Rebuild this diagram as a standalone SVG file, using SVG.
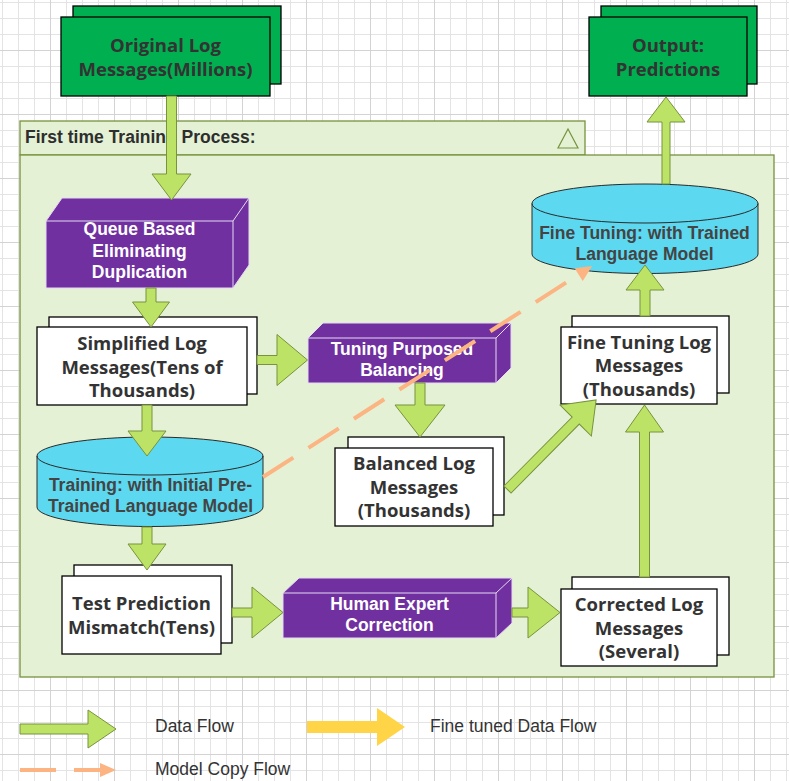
<svg xmlns="http://www.w3.org/2000/svg" width="789" height="781" viewBox="0 0 789 781">
<defs>
<pattern id="grid" x="0" y="0" width="64" height="64" patternUnits="userSpaceOnUse">
<path d="M2.5 0V64M18.5 0V64M34.5 0V64M0 2.5H64M0 18.5H64M0 34.5H64" stroke="#e4e4e4" stroke-width="1" fill="none"/>
<path d="M50.5 0V64M0 50.5H64" stroke="#d3d3d3" stroke-width="1" fill="none"/>
</pattern>
<style>
.arrow{fill:#bde366;stroke:#77933c;stroke-width:1}
.yarrow{fill:#ffd447}
.gbox{fill:#00b050;stroke:#000;stroke-width:1.3}
.wbox{fill:#fff;stroke:#000;stroke-width:1.3}
.cube{fill:#7030a0;stroke:#e6d9f2;stroke-width:1}
.cubeline{fill:none;stroke:#e6d9f2;stroke-width:1}
.cyl{fill:#5cd9f0;stroke:#2a2a2a;stroke-width:1}
.cylline{fill:none;stroke:#2a2a2a;stroke-width:1}
.bt{font-family:'Open Sans','Noto Sans',sans-serif;font-weight:bold;font-size:18.5px;fill:#333;text-anchor:middle}
.ct{font-family:'Liberation Sans',Arial,sans-serif;font-weight:bold;font-size:17.5px;fill:#fff;text-anchor:middle}
.yt{font-family:'Liberation Sans',Arial,sans-serif;font-weight:bold;font-size:17.5px;fill:#444;text-anchor:middle}
.ht{font-family:'Liberation Sans',Arial,sans-serif;font-weight:bold;font-size:17.5px;fill:#2e2e2e}
.lt{font-family:'Liberation Sans',Arial,sans-serif;font-size:17.5px;fill:#333}
.dash{fill:none;stroke:#fbb482;stroke-width:4;stroke-dasharray:36 18}
.dhead{fill:#fbb482}
</style>
</defs>
<rect x="0" y="0" width="789" height="781" fill="#fff"/>
<rect x="0" y="0" width="789" height="781" fill="url(#grid)"/>

<g id="container">
<rect x="20" y="121" width="565" height="34" fill="#e4f1d5" stroke="#77933c" stroke-width="1.3"/>
<rect x="20" y="155" width="754" height="522" fill="#e4f1d5" stroke="#77933c" stroke-width="1.3"/>
<text class="ht" x="25" y="143">First time Training Process:</text>
<polygon points="568,129 558,148 578,148" fill="none" stroke="#77933c" stroke-width="1.2"/>
</g>

<g id="original">
<rect class="gbox" x="73" y="6" width="208" height="78"/>
<rect class="gbox" x="61" y="17" width="209" height="79"/>
<text class="bt" x="165.5" y="52">Original Log</text>
<text class="bt" x="165.5" y="75.5">Messages(Millions)</text>
</g>

<g id="output">
<rect class="gbox" x="601" y="6" width="156" height="78"/>
<rect class="gbox" x="589" y="17" width="158" height="79"/>
<text class="bt" x="668" y="52">Output:</text>
<text class="bt" x="668" y="75.5">Predictions</text>
</g>

<g id="queue">
<path class="cube" d="M46 221L62 198L249 198L249 265L233 288L46 288Z"/>
<path class="cubeline" d="M46 221H233V288M233 221L249 198"/>
<text class="ct" x="139.5" y="235">Queue Based</text>
<text class="ct" x="139.5" y="257">Eliminating</text>
<text class="ct" x="139.5" y="278">Duplication</text>
</g>

<g id="simplified">
<rect class="wbox" x="49" y="317" width="208" height="77"/>
<rect class="wbox" x="37" y="327" width="210" height="78"/>
<text class="bt" x="142" y="350">Simplified Log</text>
<text class="bt" x="142" y="373.5">Messages(Tens of</text>
<text class="bt" x="142" y="397">Thousands)</text>
</g>

<g id="tuning">
<path class="cube" d="M308 338L323 323L511 323L511 368L496 383L308 383Z"/>
<path class="cubeline" d="M308 338H496V383M496 338L511 323"/>
<text class="ct" x="402" y="355">Tuning Purposed</text>
<text class="ct" x="402" y="375.5">Balancing</text>
</g>

<g id="balanced">
<rect class="wbox" x="348" y="437" width="156" height="78"/>
<rect class="wbox" x="335" y="448" width="158" height="78"/>
<text class="bt" x="414" y="470">Balanced Log</text>
<text class="bt" x="414" y="493.5">Messages</text>
<text class="bt" x="414" y="517">(Thousands)</text>
</g>

<g id="finetuninglog">
<rect class="wbox" x="572" y="316" width="157" height="77"/>
<rect class="wbox" x="561" y="327" width="156" height="77"/>
<text class="bt" x="639" y="348.5">Fine Tuning Log</text>
<text class="bt" x="639" y="372">Messages</text>
<text class="bt" x="639" y="395.5">(Thousands)</text>
</g>

<g id="finetuningmodel">
<path class="cyl" d="M532 203.5A113 19.5 0 0 1 758 203.5V254A113 19.5 0 0 1 532 254Z"/>
<path class="cylline" d="M532 203.5A113 19.5 0 0 0 758 203.5"/>
<text class="yt" x="644.5" y="239">Fine Tuning: with Trained</text>
<text class="yt" x="644.5" y="259.5">Language Model</text>
</g>

<g id="training">
<path class="cyl" d="M37 456A113 19 0 0 1 263 456V507A113 19.5 0 0 1 37 507Z"/>
<path class="cylline" d="M37 456A113 19 0 0 0 263 456"/>
<text class="yt" x="150.5" y="490.5">Training: with Initial Pre-</text>
<text class="yt" x="150.5" y="511.5">Trained Language Model</text>
</g>

<g id="testprediction">
<rect class="wbox" x="74" y="565" width="158" height="78"/>
<rect class="wbox" x="62" y="576" width="159" height="78"/>
<text class="bt" x="141.5" y="609.5">Test Prediction</text>
<text class="bt" x="141.5" y="633.5">Mismatch(Tens)</text>
</g>

<g id="human">
<path class="cube" d="M283 593L299 578L512 578L512 623L496 638L283 638Z"/>
<path class="cubeline" d="M283 593H496V638M496 593L512 578"/>
<text class="ct" x="389.5" y="609.5">Human Expert</text>
<text class="ct" x="389.5" y="631">Correction</text>
</g>

<g id="corrected">
<rect class="wbox" x="572" y="577" width="157" height="78"/>
<rect class="wbox" x="561" y="589" width="156" height="77"/>
<text class="bt" x="639" y="611">Corrected Log</text>
<text class="bt" x="639" y="634.5">Messages</text>
<text class="bt" x="639" y="658">(Several)</text>
</g>

<g id="connectors">
<polygon class="arrow" points="166.5,96 176.5,96 176.5,174 191,174 171.5,200 152,174 166.5,174"/>
<polygon class="arrow" points="146,288 156,288 156,302 169.5,302 151,327 132.5,302 146,302"/>
<polygon class="arrow" points="142,405 152,405 152,431 166,431 147,456 128,431 142,431"/>
<polygon class="arrow" points="142,527 152,527 152,544 166,544 147,570 128,544 142,544"/>
<polygon class="arrow" points="257,355.5 277,355.5 277,334.5 307.5,360 277,385.5 277,364.5 257,364.5"/>
<polygon class="arrow" points="415,383 425,383 425,405 445,405 420,437 395,405 415,405"/>
<polygon class="arrow" transform="translate(507.5,489.5) rotate(-45.3)" points="0,-5 97,-5 97,-22 126,0 97,22 97,5 0,5"/>
<polygon class="arrow" points="232,608 252,608 252,587 283,612.5 252,638 252,617 232,617"/>
<polygon class="arrow" points="512,608 528,608 528,587 560,612.5 528,638 528,617 512,617"/>
<polygon class="arrow" points="639.5,577 649.5,577 649.5,432 663.5,432 644.5,405 625.5,432 639.5,432"/>
<polygon class="arrow" points="640,316 650,316 650,290 664,290 645,265 626,290 640,290"/>
<polygon class="arrow" points="662,184 670,184 670,122 685,122 666,97 647,122 662,122"/>
<g transform="translate(263,477) rotate(-32.67)">
<line class="dash" x1="0" y1="0" x2="376" y2="0"/>
<polygon class="dhead" points="375,-7.5 391,0 375,7.5"/>
</g>
</g>

<g id="legend">
<polygon class="arrow" points="20,724 88,724 88,710 116,729 88,748 88,734 20,734"/>
<text class="lt" x="155" y="731.5">Data Flow</text>
<polygon class="yarrow" points="307,721 377,721 377,708 405,727 377,746 377,733 307,733"/>
<text class="lt" x="430" y="731.5">Fine tuned Data Flow</text>
<line class="dash" x1="20" y1="770" x2="101" y2="770"/>
<polygon class="dhead" points="100,763 116,770 100,777"/>
<text class="lt" x="155" y="774.5">Model Copy Flow</text>
</g>
</svg>
